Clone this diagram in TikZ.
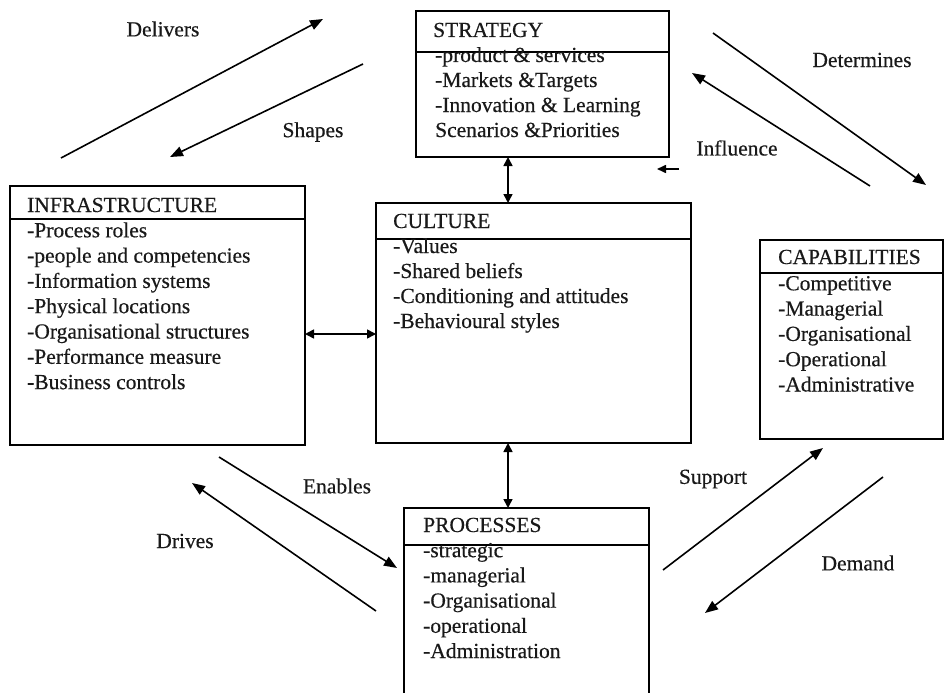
\documentclass[tikz,border=0pt]{standalone}
\usepackage{fontspec}
\setmainfont{Liberation Serif}[FakeBold=0.4]
\usetikzlibrary{arrows.meta}
\begin{document}
\begin{tikzpicture}[x=1pt,y=-1pt,
  box/.style={draw, line width=1.5pt, anchor=north west, inner sep=0pt, outer sep=0pt},
  txt/.style={anchor=base west, inner sep=0pt, text=black!90, font=\fontsize{21.5}{25}\selectfont},
  tag/.style={inner sep=0pt, text=black!90, font=\fontsize{21.5}{25}\selectfont},
  divider/.style={line width=1.2pt},
  flow/.style={line width=1.6pt, -{Triangle[length=13pt,width=10pt]}},
  twoway/.style={line width=1.6pt, {Triangle[length=9pt,width=9pt]}-{Triangle[length=9pt,width=9pt]}}]
\clip (0,0) rectangle (945,693);
\fill[white] (0,0) rectangle (945,693);

% ---- boxes ----
\node[box, minimum width=253pt, minimum height=146pt] (strat) at (416,11) {};
\node[box, minimum width=295pt, minimum height=259pt] (infra) at (10,186) {};
\node[box, minimum width=315pt, minimum height=240pt] (cult)  at (376,203) {};
\node[box, minimum width=183pt, minimum height=199pt] (capab) at (760,240) {};
\node[box, minimum width=245pt, minimum height=220pt] (proc)  at (404,508) {};

% header dividers
\draw[divider] (416,52) -- (669,52);
\draw[divider] (10,219) -- (305,219);
\draw[divider] (376,239) -- (691,239);
\draw[divider] (760,273) -- (943,273);
\draw[divider] (404,545) -- (649,545);

% ---- titles ----
\node[txt] (stratT) at (433,37)  {STRATEGY};
\node[txt] (infraT) at (27,212)  {INFRASTRUCTURE};
\node[txt] (cultT)  at (393,228) {CULTURE};
\node[txt] (capabT) at (778,264) {CAPABILITIES};
\node[txt] (procT)  at (423,532) {PROCESSES};

% ---- item lists ----
\foreach \t [count=\i] in {-product \& services, -Markets \&Targets,
    -Innovation \& Learning, Scenarios \&Priorities}
  \node[txt] (s\i) at (435,{37+25*\i}) {\t};
\foreach \t [count=\i] in {-Process roles, -people and competencies,
    -Information systems, -Physical locations, -Organisational structures,
    -Performance measure, -Business controls}
  \node[txt] (f\i) at (27,{212+25.3*\i}) {\t};
\foreach \t [count=\i] in {-Values, -Shared beliefs,
    -Conditioning and attitudes, -Behavioural styles}
  \node[txt] (c\i) at (393,{228+25*\i}) {\t};
\foreach \t [count=\i] in {-Competitive, -Managerial, -Organisational,
    -Operational, -Administrative}
  \node[txt] (k\i) at (778,{265+25.3*\i}) {\t};
\foreach \t [count=\i] in {-strategic, -managerial, -Organisational,
    -operational, -Administration}
  \node[txt] (p\i) at (423,{532+25.2*\i}) {\t};

% ---- two-way links between boxes ----
\draw[twoway] (strat.south -| 508,0) -- (cult.north -| 508,0);
\draw[twoway] (cult.south -| 508,0) -- (proc.north -| 508,0);
\draw[twoway] (infra.east |- 0,334) -- (cult.west |- 0,334);

% ---- free-standing relation arrows ----
\coordinate (delA) at (61,158);  \coordinate (delB) at (323,19);
\coordinate (shpA) at (363,64);  \coordinate (shpB) at (170,157);
\coordinate (detA) at (713,33);  \coordinate (detB) at (926,185);
\coordinate (infA) at (870,186); \coordinate (infB) at (692,73);
\coordinate (inlA) at (679,169); \coordinate (inlB) at (657,169);
\coordinate (enaA) at (219,457); \coordinate (enaB) at (397,568);
\coordinate (drvA) at (376,611); \coordinate (drvB) at (192,483);
\coordinate (supA) at (663,570); \coordinate (supB) at (823,448);
\coordinate (demA) at (883,477); \coordinate (demB) at (705,613);

\draw[flow] (delA) -- (delB);
\draw[flow] (shpA) -- (shpB);
\draw[flow] (detA) -- (detB);
\draw[flow] (infA) -- (infB);
\draw[line width=1.6pt, -{Triangle[length=9pt,width=8pt]}] (inlA) -- (inlB);
\draw[flow] (enaA) -- (enaB);
\draw[flow] (drvA) -- (drvB);
\draw[flow] (supA) -- (supB);
\draw[flow] (demA) -- (demB);

% ---- arrow labels ----
\node[tag] (lDel) at (163,29)  {Delivers};
\node[tag] (lShp) at (313,132) {Shapes};
\node[tag] (lDet) at (862,60)  {Determines};
\node[tag] (lInf) at (737,148) {Influence};
\node[tag] (lEna) at (337,486) {Enables};
\node[tag] (lDrv) at (185,541) {Drives};
\node[tag] (lSup) at (713,479) {Support};
\node[tag] (lDem) at (858,563) {Demand};
\end{tikzpicture}
\end{document}
